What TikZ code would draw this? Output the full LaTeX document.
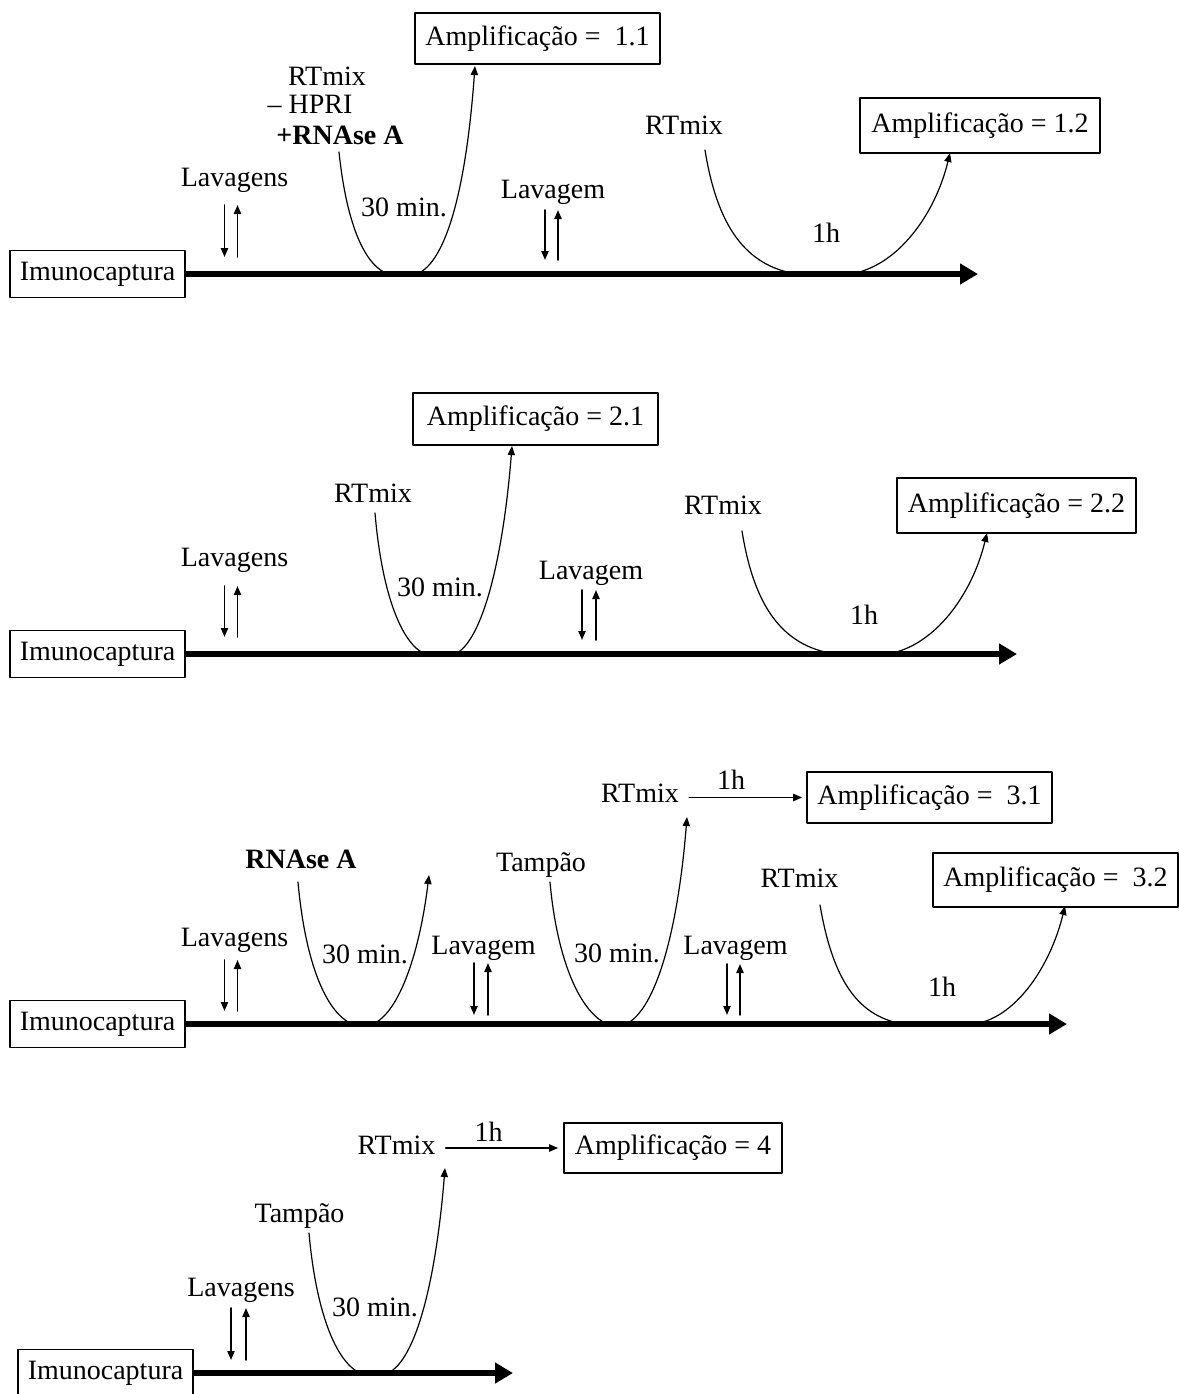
\documentclass[tikz,border=0pt]{standalone}
\usepackage{fontspec}
\setmainfont{Liberation Serif}
\usetikzlibrary{arrows.meta}

\begin{document}
\begin{tikzpicture}[x=0.5pt,y=-0.5pt,line cap=round,line join=round,
  >={Triangle[length=4.5pt,width=3.6pt]},
  every node/.style={font=\fontsize{14}{16}\selectfont,inner sep=1pt},
  caixa/.style={draw,line width=0.8pt,minimum height=26pt,inner sep=2pt},
  eixo/.style={line width=3pt,line cap=butt,-{Triangle[length=9pt,width=10pt]}},
  curva/.style={line width=0.6pt,->},
  seta/.style={line width=0.8pt,->}]
\useasboundingbox (0,0) rectangle (1179,1394);

% protocolo 1
\node[caixa,minimum width=87.5pt,minimum height=23.5pt] (imu1) at (97.5,274) {Imunocaptura};
\coordinate (fim1) at (978,274);
\draw[eixo] (imu1.east) -- (fim1);
\node (lav1) at (234.5,180) {Lavagens};
\draw[seta] ([shift={(-10,25)}]lav1.center) -- ++(0,52);
\draw[seta] ([shift={(3,77)}]lav1.center) -- ++(0,-52);
\node (rt1) at (327,76) {RTmix};
\node (hp1) at (310,104) {-- HPRI};
\node (rn1) at (340,135) {\textbf{+RNAse A}};
\node (min1) at (404,207) {30 min.};
\node[caixa,minimum width=122.5pt,minimum height=25.5pt] (amp11) at (537.5,38.5) {Amplificação =~ 1.1};
\coordinate (a1) at (339,152);
\coordinate (b1) at (475,66);
\draw[curva] (a1) .. controls (347,228) and (366,266) .. (388,274) -- (417,274) .. controls (446,262) and (466,190) .. (b1);
\node (lav1b) at (553,192) {Lavagem};
\draw[seta] ([shift={(-8,18)}]lav1b.center) -- ++(0,50);
\draw[seta] ([shift={(5,68)}]lav1b.center) -- ++(0,-50);
\node (rt1b) at (684,125) {RTmix};
\node (h1) at (826,233) {1h};
\node[caixa,minimum width=120pt,minimum height=27.5pt] (amp12) at (980,125.5) {Amplificação = 1.2};
\coordinate (a1b) at (705,150);
\coordinate (b1b) at (950,153);
\draw[curva] (a1b) .. controls (717,225) and (745,266) .. (797,274) -- (850,274) .. controls (897,267) and (935,215) .. (b1b);

% protocolo 2
\node[caixa,minimum width=87.5pt,minimum height=23.5pt] (imu2) at (97.5,654) {Imunocaptura};
\coordinate (fim2) at (1017,654);
\draw[eixo] (imu2.east) -- (fim2);
\node (lav2) at (234.5,560) {Lavagens};
\draw[seta] ([shift={(-10,26)}]lav2.center) -- ++(0,51);
\draw[seta] ([shift={(3,77)}]lav2.center) -- ++(0,-51);
\node (rt2) at (373,493) {RTmix};
\node (min2) at (440,587) {30 min.};
\node[caixa,minimum width=122.5pt] (amp21) at (535.5,419) {Amplificação = 2.1};
\coordinate (a2) at (375,513);
\coordinate (b2) at (512,446);
\draw[curva] (a2) .. controls (382,595) and (402,644) .. (425,654) -- (455,654) .. controls (482,642) and (503,560) .. (b2);
\node (lav2b) at (591,573) {Lavagem};
\draw[seta] ([shift={(-9,17)}]lav2b.center) -- ++(0,50);
\draw[seta] ([shift={(5,67)}]lav2b.center) -- ++(0,-50);
\node (rt2b) at (723,505) {RTmix};
\node (h2) at (864,615) {1h};
\node[caixa,minimum width=119.5pt,minimum height=27.5pt] (amp22) at (1016.5,505.5) {Amplificação = 2.2};
\coordinate (a2b) at (742,531);
\coordinate (b2b) at (987,533);
\draw[curva] (a2b) .. controls (754,606) and (782,646) .. (835,654) -- (887,654) .. controls (934,647) and (972,595) .. (b2b);

% protocolo 3
\node[caixa,minimum width=87.5pt,minimum height=23.5pt] (imu3) at (97.5,1024) {Imunocaptura};
\coordinate (fim3) at (1067,1024);
\draw[eixo] (imu3.east) -- (fim3);
\node (lav3) at (234.5,940) {Lavagens};
\draw[seta] ([shift={(-10,20)}]lav3.center) -- ++(0,51);
\draw[seta] ([shift={(3,71)}]lav3.center) -- ++(0,-51);
\node (rn3) at (301,859) {\textbf{RNAse A}};
\node (min3) at (365,954) {30 min.};
\coordinate (a3) at (298,882);
\coordinate (b3) at (429,875);
\draw[curva] (a3) .. controls (305,960) and (325,1012) .. (352,1024) -- (373,1024) .. controls (400,1012) and (420,950) .. (b3);
\node (lav3b) at (483.5,948) {Lavagem};
\draw[seta] ([shift={(-9.5,15)}]lav3b.center) -- ++(0,52);
\draw[seta] ([shift={(4.5,67)}]lav3b.center) -- ++(0,-52);
\node (tp3) at (541,865) {Tampão};
\node (min3b) at (617,953) {30 min.};
\coordinate (a3b) at (550,882);
\coordinate (b3b) at (687,817);
\draw[curva] (a3b) .. controls (557,960) and (580,1012) .. (607,1024) -- (626,1024) .. controls (656,1010) and (678,930) .. (b3b);
\node (rt3) at (640,793) {RTmix};
\node (h3) at (731,780) {1h};
\node[caixa,minimum width=122.5pt,minimum height=25.5pt] (amp31) at (929.5,797.5) {Amplificação =~ 3.1};
\draw[seta,shorten <=4pt,shorten >=2pt] (rt3.east |- amp31.west) -- (amp31.west);
\node (lav3c) at (735.5,948) {Lavagem};
\draw[seta] ([shift={(-8.5,16)}]lav3c.center) -- ++(0,51);
\draw[seta] ([shift={(4.5,67)}]lav3c.center) -- ++(0,-51);
\node (rt3b) at (799.5,878) {RTmix};
\node (h3b) at (942,987) {1h};
\node[caixa,minimum width=122.5pt,minimum height=27pt] (amp32) at (1055.5,880) {Amplificação =~ 3.2};
\coordinate (a3c) at (820,905);
\coordinate (b3c) at (1065,906);
\draw[curva] (a3c) .. controls (832,975) and (855,1016) .. (903,1024) -- (975,1024) .. controls (1020,1016) and (1052,960) .. (b3c);

% protocolo 4
\node[caixa,minimum width=87.5pt,minimum height=23.5pt] (imu4) at (105.5,1373) {Imunocaptura};
\coordinate (fim4) at (513,1373);
\draw[eixo] (imu4.east) -- (fim4);
\node (lav4) at (241,1290) {Lavagens};
\draw[seta] ([shift={(-10,18)}]lav4.center) -- ++(0,52);
\draw[seta] ([shift={(5,70)}]lav4.center) -- ++(0,-52);
\node (tp4) at (299.5,1216) {Tampão};
\node (min4) at (375,1307) {30 min.};
\coordinate (a4) at (309,1233);
\coordinate (b4) at (445,1168);
\draw[curva] (a4) .. controls (316,1312) and (336,1362) .. (360,1373) -- (388,1373) .. controls (416,1360) and (436,1280) .. (b4);
\node (rt4) at (396.5,1145) {RTmix};
\node (h4) at (488.5,1132) {1h};
\node[caixa,minimum width=109pt,minimum height=25pt] (amp4) at (673,1148) {Amplificação = 4};
\draw[seta,shorten <=4pt,shorten >=2.5pt] (rt4.east |- amp4.west) -- (amp4.west);
\end{tikzpicture}
\end{document}
